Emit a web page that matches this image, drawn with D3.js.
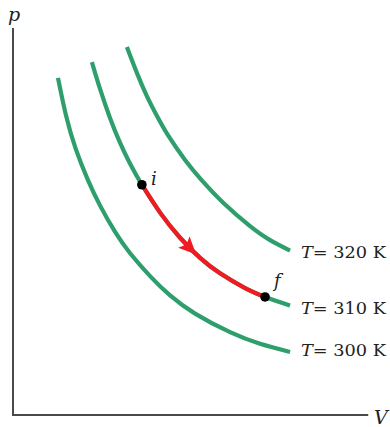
<!DOCTYPE html>
<html>
<head>
<meta charset="utf-8">
<script src="https://cdn.jsdelivr.net/npm/d3@7"></script>
<style>
  html, body { margin: 0; padding: 0; background: #fff; }
  svg { display: block; }
  text { font-family: "DejaVu Serif", "Liberation Serif", serif; fill: #222; }
</style>
</head>
<body>
<svg id="chart" width="390" height="427"></svg>
<script>
// Isotherm curves: [V, p] in arbitrary units (0..10)
const isotherm300 = [[1.26,8.71],[1.48,7.76],[1.76,6.87],[2.10,6.07],[2.44,5.41],[2.86,4.73],[3.28,4.18],[3.84,3.59],[4.40,3.09],[5.10,2.62],[6.08,2.14],[6.92,1.84],[7.76,1.63]];
const isotherm310 = [[2.21,9.12],[2.44,8.42],[2.72,7.67],[3.00,7.03],[3.28,6.49],[3.61,5.95],[4.12,5.23],[4.68,4.58],[5.24,4.06],[5.80,3.66],[6.50,3.28],[7.06,3.05],[7.76,2.83]];
const isotherm320 = [[3.19,9.51],[3.47,8.84],[3.75,8.24],[4.03,7.73],[4.34,7.23],[4.82,6.59],[5.29,6.06],[5.88,5.49],[6.64,4.88],[7.20,4.52],[7.76,4.25]];
// Process path i -> f along the 310 K isotherm
const processPath = [[3.61,5.95],[4.12,5.23],[4.68,4.58],[5.24,4.06],[5.80,3.66],[6.50,3.28],[7.06,3.05]];
const stateI = [3.61,5.95];
const stateF = [7.06,3.05];
const temperatures = ["320", "310", "300"];
const stateLabels = ["i", "f"];
const axisLabels = ["p", "V"];

const svg = d3.select("#chart");
const x = d3.scaleLinear().domain([0, 10]).range([13, 370]);
const y = d3.scaleLinear().domain([0, 10]).range([415, 28]);

const green = "#2e9f6c";
const red = "#ee1c22";

// axes
svg.append("line").attr("x1", x(0)).attr("x2", x(0)).attr("y1", y(10)).attr("y2", y(0) + 1)
  .attr("stroke", "#4a4a4a").attr("stroke-width", 2);
svg.append("line").attr("x1", x(0) - 1).attr("x2", x(9.95)).attr("y1", y(0)).attr("y2", y(0))
  .attr("stroke", "#4a4a4a").attr("stroke-width", 2);

svg.append("text").attr("x", 8).attr("y", 21).attr("font-style", "italic").attr("font-size", 19).text(axisLabels[0]);
svg.append("text").attr("x", 374).attr("y", 424).attr("font-style", "italic").attr("font-size", 19).text(axisLabels[1]);

const line = d3.line().x(d => x(d[0])).y(d => y(d[1])).curve(d3.curveNatural);

const curves = [isotherm320, isotherm310, isotherm300];
curves.forEach(c => {
  svg.append("path").attr("d", line(c)).attr("fill", "none").attr("stroke", green)
    .attr("stroke-width", 4.2).attr("stroke-linecap", "butt");
});

const redPath = svg.append("path").attr("d", line(processPath)).attr("fill", "none")
  .attr("stroke", red).attr("stroke-width", 4.2);

// arrowhead along the red path
const node = redPath.node();
const L = node.getTotalLength();
const at = L * 0.46;
const p0 = node.getPointAtLength(at - 1), p1 = node.getPointAtLength(at + 1);
const pc = node.getPointAtLength(at);
const ang = Math.atan2(p1.y - p0.y, p1.x - p0.x) * 180 / Math.PI;
svg.append("path").attr("d", "M10.5,0 L-7,-8 L-3.5,0 L-7,8 Z")
  .attr("fill", red).attr("transform", `translate(${pc.x},${pc.y}) rotate(${ang})`);

// state points
[stateI, stateF].forEach(s => {
  svg.append("circle").attr("cx", x(s[0])).attr("cy", y(s[1])).attr("r", 4.8).attr("fill", "#000");
});
svg.append("text").attr("x", x(stateI[0]) + 9).attr("y", y(stateI[1])).attr("font-style", "italic").attr("font-size", 18).text(stateLabels[0]);
svg.append("text").attr("x", x(stateF[0]) + 9).attr("y", y(stateF[1]) - 10).attr("font-style", "italic").attr("font-size", 18).text(stateLabels[1]);

// isotherm labels
const labelDy = [7, 8.5, 4];
curves.forEach((c, k) => {
  const last = c[c.length - 1];
  const t = svg.append("text").attr("x", x(last[0]) + 11).attr("y", y(last[1]) + labelDy[k])
    .attr("font-size", 16).attr("textLength", 85).attr("lengthAdjust", "spacingAndGlyphs");
  t.append("tspan").attr("font-style", "italic").text("T");
  t.append("tspan").text("= " + temperatures[k] + " K");
});
</script>
</body>
</html>
